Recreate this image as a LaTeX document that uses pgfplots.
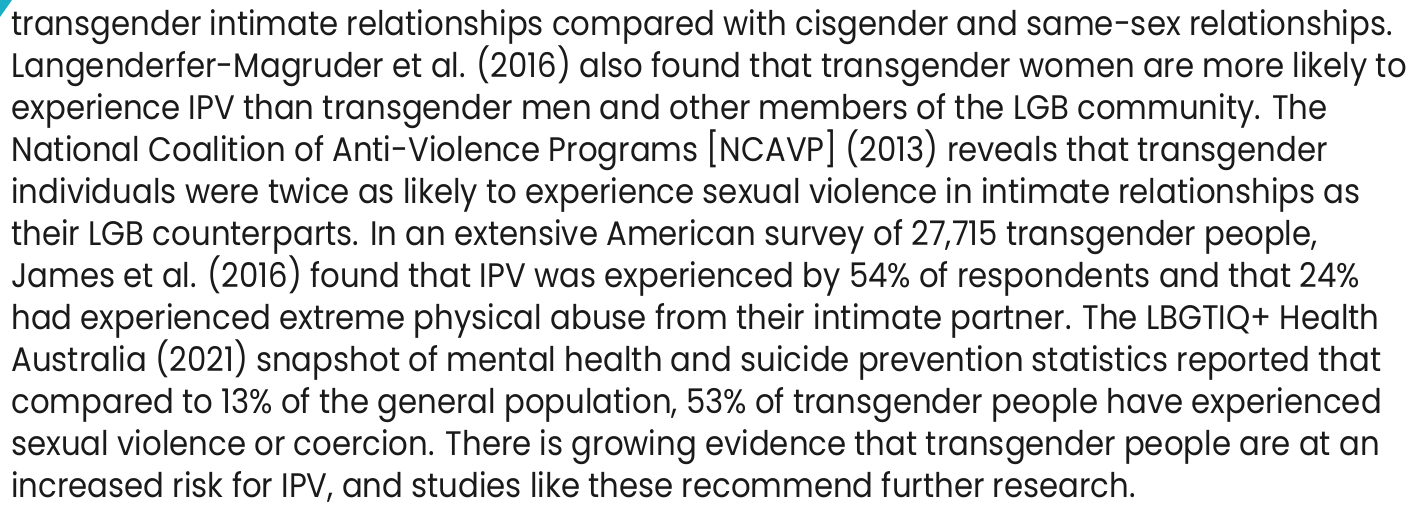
\documentclass[border=0pt]{standalone}
\usepackage{fontspec}
\setmainfont[FakeStretch=0.905]{Poppins}
\usepackage{pgfplots}
\pgfplotsset{compat=1.18}
\definecolor{teal1}{HTML}{1AAFC6}
\definecolor{txt}{HTML}{1A1A1A}
\begin{document}
\begin{tikzpicture}
\begin{axis}[
  scale only axis, width=706.5pt, height=252pt,
  xmin=0, xmax=1413, ymin=0, ymax=504, y dir=reverse,
  hide axis, clip=false,
]
\fill[teal1] (axis cs:0,0) -- (axis cs:12,0) -- (axis cs:0,17) -- cycle;
\def\L#1#2{\node[anchor=base west, inner sep=0pt, text=txt, font=\fontsize{17pt}{21pt}\selectfont] at (axis cs:11,{35+42*#1}) {#2};}
\L{0}{transgender intimate relationships compared with cisgender and same-sex relationships.}
\L{1}{Langenderfer-Magruder et al. (2016) also found that transgender women are more likely to}
\L{2}{experience IPV than transgender men and other members of the LGB community. The}
\L{3}{National Coalition of Anti-Violence Programs [NCAVP] (2013) reveals that transgender}
\L{4}{individuals were twice as likely to experience sexual violence in intimate relationships as}
\L{5}{their LGB counterparts. In an extensive American survey of 27,715 transgender people,}
\L{6}{James et al. (2016) found that IPV was experienced by 54\% of respondents and that 24\%}
\L{7}{had experienced extreme physical abuse from their intimate partner. The LBGTIQ+ Health}
\L{8}{Australia (2021) snapshot of mental health and suicide prevention statistics reported that}
\L{9}{compared to 13\% of the general population, 53\% of transgender people have experienced}
\L{10}{sexual violence or coercion. There is growing evidence that transgender people are at an}
\L{11}{increased risk for IPV, and studies like these recommend further research.}
\end{axis}
\pgfresetboundingbox
\path (current axis.south west) rectangle (current axis.north east);
\end{tikzpicture}
\end{document}
